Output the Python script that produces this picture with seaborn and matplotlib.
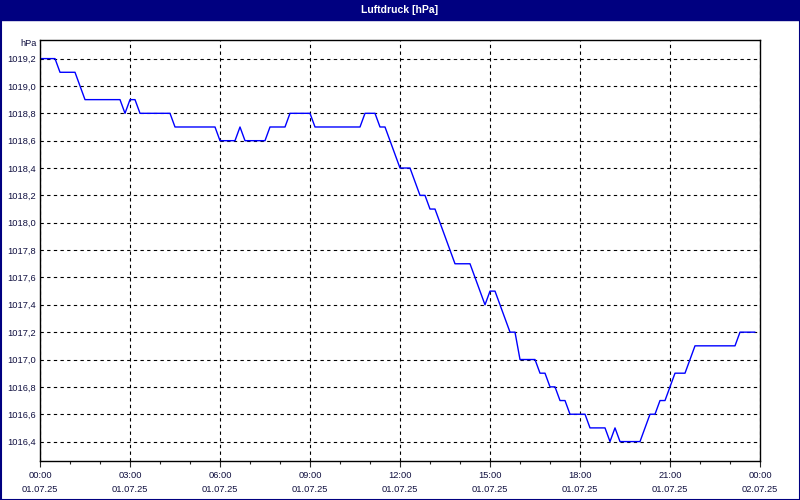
import numpy as np
import pandas as pd
import matplotlib
matplotlib.use("Agg")
import matplotlib.pyplot as plt
import matplotlib.dates as mdates
from matplotlib.patches import Rectangle
from matplotlib.ticker import FuncFormatter, MultipleLocator
import seaborn as sns

# air pressure, 10-minute readings, 01.07.25 00:00 - 02.07.25 00:00
pressure = [
    1019.2, 1019.2, 1019.2, 1019.2, 1019.1, 1019.1, 1019.1, 1019.1, 1019.0, 1018.9,
    1018.9, 1018.9, 1018.9, 1018.9, 1018.9, 1018.9, 1018.9, 1018.8, 1018.9, 1018.9,
    1018.8, 1018.8, 1018.8, 1018.8, 1018.8, 1018.8, 1018.8, 1018.7, 1018.7, 1018.7,
    1018.7, 1018.7, 1018.7, 1018.7, 1018.7, 1018.7, 1018.6, 1018.6, 1018.6, 1018.6,
    1018.7, 1018.6, 1018.6, 1018.6, 1018.6, 1018.6, 1018.7, 1018.7, 1018.7, 1018.7,
    1018.8, 1018.8, 1018.8, 1018.8, 1018.8, 1018.7, 1018.7, 1018.7, 1018.7, 1018.7,
    1018.7, 1018.7, 1018.7, 1018.7, 1018.7, 1018.8, 1018.8, 1018.8, 1018.7, 1018.7,
    1018.6, 1018.5, 1018.4, 1018.4, 1018.4, 1018.3, 1018.2, 1018.2, 1018.1, 1018.1,
    1018.0, 1017.9, 1017.8, 1017.7, 1017.7, 1017.7, 1017.7, 1017.6, 1017.5, 1017.4,
    1017.5, 1017.5, 1017.4, 1017.3, 1017.2, 1017.2, 1017.0, 1017.0, 1017.0, 1017.0,
    1016.9, 1016.9, 1016.8, 1016.8, 1016.7, 1016.7, 1016.6, 1016.6, 1016.6, 1016.6,
    1016.5, 1016.5, 1016.5, 1016.5, 1016.4, 1016.5, 1016.4, 1016.4, 1016.4, 1016.4,
    1016.4, 1016.5, 1016.6, 1016.6, 1016.7, 1016.7, 1016.8, 1016.9, 1016.9, 1016.9,
    1017.0, 1017.1, 1017.1, 1017.1, 1017.1, 1017.1, 1017.1, 1017.1, 1017.1, 1017.1,
    1017.2, 1017.2, 1017.2, 1017.2,
]
times = pd.date_range("2025-07-01 00:00", periods=len(pressure), freq="10min")
data = pd.DataFrame({"time": times, "pressure": pressure})

title = "Luftdruck [hPa]"
unit = "hPa"
navy = "#000080"
txt = "#101040"

sns.set_style("white")
plt.rcParams["font.family"] = ["Liberation Sans", "DejaVu Sans"]

fig = plt.figure(figsize=(8, 5), dpi=100)
ax = fig.add_axes([40 / 800, 1 - 461 / 500, 720 / 800, 421 / 500])

# window frame and title bar
fig.patches.append(Rectangle((0, 1 - 20 / 500), 1, 20 / 500, transform=fig.transFigure,
                             color=navy, zorder=0))
fig.patches.append(Rectangle((0.5 / 800, 0.5 / 500), 799 / 800, 499 / 500, transform=fig.transFigure,
                             fill=False, edgecolor=navy, linewidth=1.5, zorder=0))
fig.text(0.5, 1 - 10 / 500, title, color="white", fontsize=7.5, fontweight="bold",
         ha="center", va="center")

sns.lineplot(data=data, x="time", y="pressure", ax=ax, color="#0000ff", linewidth=1)

ax.set_xlim(pd.Timestamp("2025-07-01 00:00"), pd.Timestamp("2025-07-02 00:00"))
ax.set_ylim(1016.258, 1019.336)
ax.yaxis.set_major_locator(MultipleLocator(0.2))
ax.yaxis.set_major_formatter(FuncFormatter(lambda v, p: f"{v:.1f}".replace(".", ",")))
ax.xaxis.set_major_locator(mdates.HourLocator(byhour=range(0, 24, 3)))
ax.xaxis.set_minor_locator(mdates.HourLocator())
ax.xaxis.set_major_formatter(mdates.DateFormatter("%H:%M\n%d.%m.%y"))

ax.grid(True, which="major", color="black", linestyle=(0, (3, 3)), linewidth=0.8)
ax.set_xlabel("")
ax.set_ylabel("")
for s in ax.spines.values():
    s.set_color("black")
    s.set_linewidth(1)

ax.tick_params(axis="y", length=0, pad=3, labelsize=6.7, labelcolor=txt)
ax.tick_params(axis="x", which="major", direction="out", length=4, width=0.8,
               pad=3, labelsize=6.7, labelcolor=txt, bottom=True)
ax.tick_params(axis="x", which="minor", direction="out", length=2, width=0.8, bottom=True)
for lab in ax.get_xticklabels():
    lab.set_linespacing(1.8)

fig.text(37 / 800, 1 - 44 / 500, unit, fontsize=6.7, color=txt, ha="right", va="center")

fig.savefig("out.png", dpi=100)
